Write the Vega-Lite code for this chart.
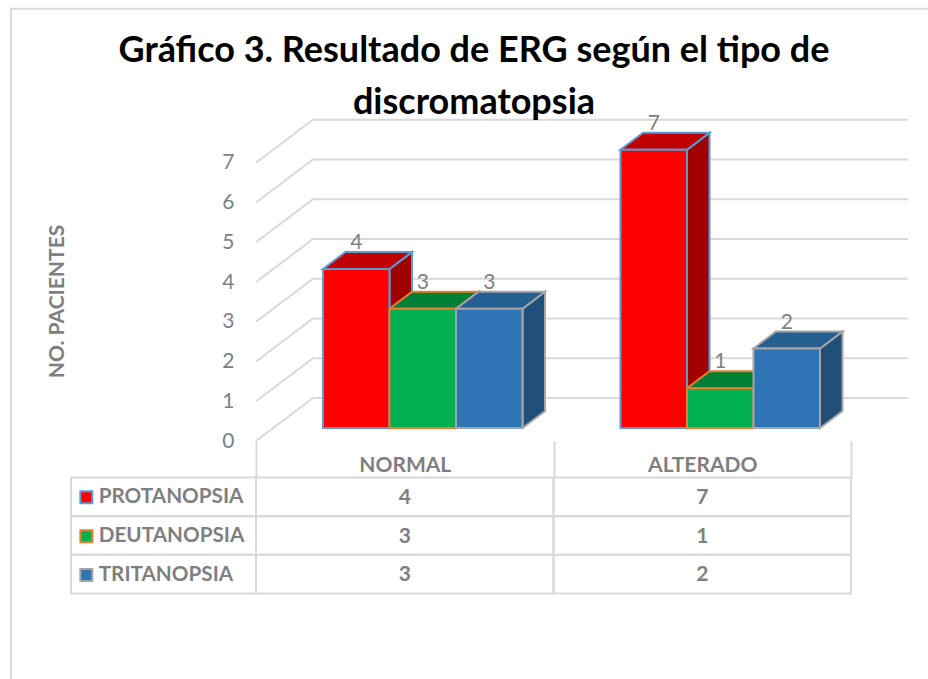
{
"$schema":"https://vega.github.io/schema/vega-lite/v6.json",
"width":928,"height":679,"padding":0,"autosize":{"type":"none"},
"background":"white",
"config":{"view":{"stroke":null},"font":"Lato"},
"title":{"text":["Gráfico 3. Resultado de ERG  según el tipo de","discromatopsia"],"font":"Lato","fontSize":36,"fontWeight":"bold","color":"#000000","anchor":"middle","frame":"group","dx":10,"dy":122,"lineHeight":52,"offset":0},
"datasets":{
"rows":[
{"categoria":"NORMAL","serie":"PROTANOPSIA","valor":4},
{"categoria":"NORMAL","serie":"DEUTANOPSIA","valor":3},
{"categoria":"NORMAL","serie":"TRITANOPSIA","valor":3},
{"categoria":"ALTERADO","serie":"PROTANOPSIA","valor":7},
{"categoria":"ALTERADO","serie":"DEUTANOPSIA","valor":1},
{"categoria":"ALTERADO","serie":"TRITANOPSIA","valor":2}
],
"ticks":[{"t":0},{"t":1},{"t":2},{"t":3},{"t":4},{"t":5},{"t":6},{"t":7}]
},
"encoding":{
"x":{"field":"categoria","type":"nominal","sort":["NORMAL","ALTERADO"],"scale":{"domain":["NORMAL","ALTERADO"],"range":[256,851],"paddingInner":0,"paddingOuter":0}}
},
"layer":[
{
"data":{"name":"rows"},
"resolve":{"scale":{"fill":"independent","stroke":"independent"}},
"encoding":{
"y":{"field":"valor","type":"quantitative","scale":{"domain":[0,7],"range":[441,162.75],"nice":false,"zero":true},"axis":{"orient":"left","offset":-256,"values":[0,1,2,3,4,5,6,7],"domain":false,"ticks":false,"grid":false,"labelPadding":22,"labelFont":"Lato","labelFontSize":21,"labelColor":"#7f7f7f","title":"NO. PACIENTES","titleFont":"Lato","titleFontSize":21,"titleFontWeight":"bold","titleColor":"#7f7f7f","titleX":-199,"titleY":301,"titleAngle":270,"titleAnchor":"middle","titleAlign":"center","titleBaseline":"middle"}},
"xOffset":{"field":"serie","type":"nominal","sort":["PROTANOPSIA","DEUTANOPSIA","TRITANOPSIA"],"scale":{"domain":["PROTANOPSIA","DEUTANOPSIA","TRITANOPSIA"],"range":[67,266.5],"paddingInner":0,"paddingOuter":0}}
},
"layer":[
{
"data":{"name":"ticks"},
"mark":{"type":"point","filled":false,"stroke":"#d9d9d9","strokeWidth":2,"opacity":1,"size":4,"shape":"M0,0L57,-43L652,-43"},
"encoding":{"x":{"datum":"NORMAL"},"y":{"field":"t","type":"quantitative"},"xOffset":{"value":0}}
},
{
"mark":{"type":"point","filled":true,"opacity":1,"size":4,"strokeWidth":2},
"encoding":{
"shape":{"field":"valor","type":"nominal","legend":null,"scale":{"domain":[1,2,3,4,7],"range":[
"M33.25,-13L55.75,-30L55.75,9.75L33.25,26.75Z",
"M33.25,-13L55.75,-30L55.75,49.5L33.25,66.5Z",
"M33.25,-13L55.75,-30L55.75,89.25L33.25,106.25Z",
"M33.25,-13L55.75,-30L55.75,129L33.25,146Z",
"M33.25,-13L55.75,-30L55.75,248.25L33.25,265.25Z"]}},
"stroke":{"field":"serie","type":"nominal","scale":{"domain":["PROTANOPSIA","DEUTANOPSIA","TRITANOPSIA"],"range":["#5b9bd5","#ed7d31","#a5a5a5"]},"legend":null},
"fill":{"field":"serie","type":"nominal","legend":null,"scale":{"domain":["PROTANOPSIA","DEUTANOPSIA","TRITANOPSIA"],"range":["#a00000","#00702f","#1f4e79"]}}
}
},
{
"mark":{"type":"point","filled":true,"opacity":1,"size":4,"strokeWidth":2,"shape":"M-33.25,-13L33.25,-13L55.75,-30L-10.75,-30Z"},
"encoding":{
"stroke":{"field":"serie","type":"nominal","scale":{"domain":["PROTANOPSIA","DEUTANOPSIA","TRITANOPSIA"],"range":["#5b9bd5","#ed7d31","#a5a5a5"]},"legend":null},
"fill":{"field":"serie","type":"nominal","legend":null,"scale":{"domain":["PROTANOPSIA","DEUTANOPSIA","TRITANOPSIA"],"range":["#c00000","#008037","#255e91"]}}
}
},
{
"mark":{"type":"bar","strokeWidth":2,"yOffset":-13,"y2Offset":-13},
"encoding":{
"y2":{"datum":0},
"stroke":{"field":"serie","type":"nominal","sort":["PROTANOPSIA","DEUTANOPSIA","TRITANOPSIA"],"scale":{"domain":["PROTANOPSIA","DEUTANOPSIA","TRITANOPSIA"],"range":["#5b9bd5","#ed7d31","#a5a5a5"]},"legend":{"title":null}},
"fill":{"field":"serie","type":"nominal","sort":["PROTANOPSIA","DEUTANOPSIA","TRITANOPSIA"],"scale":{"domain":["PROTANOPSIA","DEUTANOPSIA","TRITANOPSIA"],"range":["#ff0000","#00b050","#2e75b6"]},
"legend":{"orient":"none","legendX":68,"legendY":479,"title":null,"symbolType":"square","symbolSize":144,"symbolStrokeWidth":2,"symbolOpacity":1,"labelFont":"Lato","labelFontSize":20.7,"labelFontWeight":"bold","labelColor":"#7f7f7f","labelLimit":200,"rowPadding":16.8,"labelOffset":2,"padding":8}}
}
},
{
"mark":{"type":"text","font":"Lato","fontSize":21,"color":"#7f7f7f","dy":-39,"baseline":"middle"},
"encoding":{"text":{"field":"valor","type":"quantitative"}}
}
]
},
{
"data":{"name":"rows"},
"encoding":{
"y":{"field":"serie","type":"nominal","axis":null,"sort":["PROTANOPSIA","DEUTANOPSIA","TRITANOPSIA"],"scale":{"domain":["PROTANOPSIA","DEUTANOPSIA","TRITANOPSIA"],"range":[477.5,593.5],"paddingInner":0,"paddingOuter":0}}
},
"layer":[
{
"mark":{"type":"rect","fillOpacity":0,"stroke":"#d9d9d9","strokeWidth":2},
"encoding":{"x":{"field":"categoria","type":"nominal","axis":{"orient":"bottom","offset":-238,"title":null,"domain":false,"tickBand":"extent","tickSize":36.5,"tickColor":"#d9d9d9","tickWidth":2,"labelAngle":0,"labelAlign":"center","labelPadding":-12,"labelFont":"Lato","labelFontSize":21,"labelFontWeight":"bold","labelColor":"#7f7f7f","grid":false}}}
},
{
"transform":[{"filter":"datum.categoria === 'NORMAL'"}],
"mark":{"type":"point","filled":false,"stroke":"#d9d9d9","strokeWidth":2,"opacity":1,"size":4,"shape":"M-333.75,-19.33H-148.75V19.33H-333.75Z"}
},
{
"mark":{"type":"text","font":"Lato","fontSize":21,"fontWeight":"bold","color":"#7f7f7f","baseline":"middle","dy":1},
"encoding":{"text":{"field":"valor","type":"quantitative"}}
},
{
"transform":[{"filter":"datum.categoria === 'NORMAL' && datum.serie === 'PROTANOPSIA'"}],
"mark":{"type":"point","filled":false,"stroke":"#d9d9d9","strokeWidth":2,"opacity":1,"size":4,"shape":"M-393.75,201V-488H523"}
}
]
}
],
"resolve":{"scale":{"y":"independent"}}
}
